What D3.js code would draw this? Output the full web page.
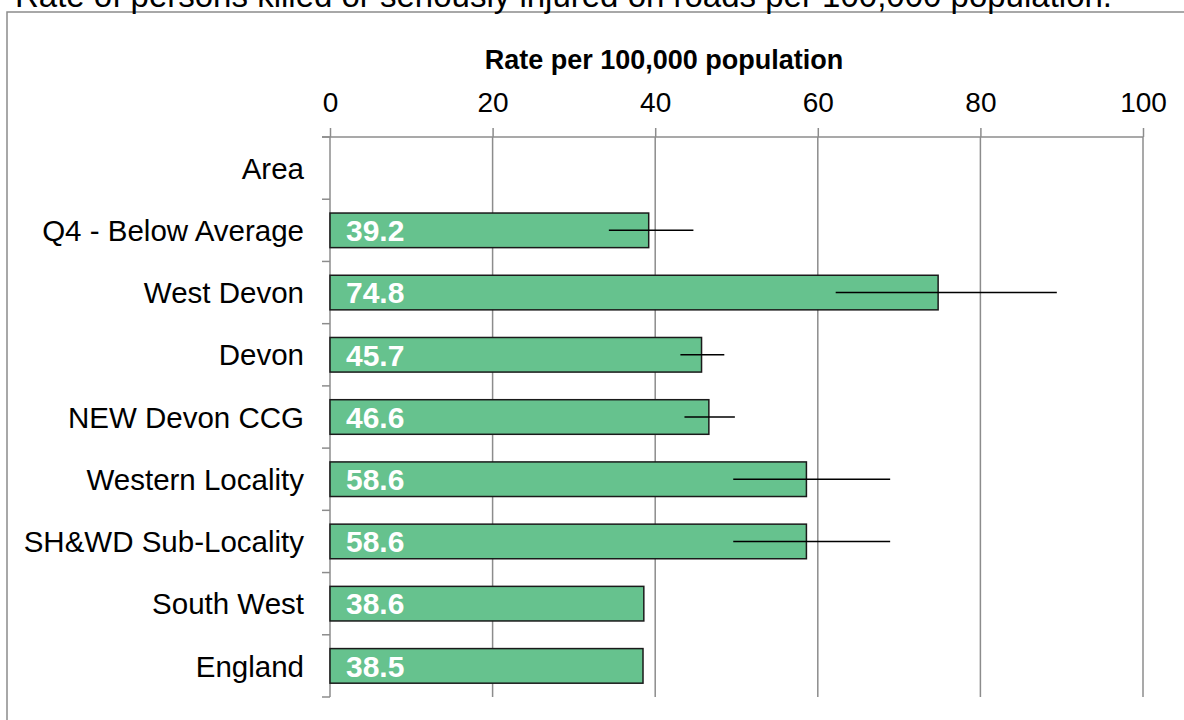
<!DOCTYPE html>
<html>
<head>
<meta charset="utf-8">
<script src="https://cdn.jsdelivr.net/npm/d3@7"></script>
<style>
  html, body { margin: 0; padding: 0; background: #ffffff; }
  svg { display: block; font-family: "Liberation Sans", Arial, Helvetica, sans-serif; }
</style>
</head>
<body>
<svg id="chart" width="1184" height="720"></svg>
<script>
const chartTitle = "Rate of persons killed or seriously injured on roads per 100,000 population.";
const axisTitle = "Rate per 100,000 population";
const categories = ["Area", "Q4 - Below Average", "West Devon", "Devon", "NEW Devon CCG",
                    "Western Locality", "SH&WD Sub-Locality", "South West", "England"];
const values = [null, 39.2, 74.8, 45.7, 46.6, 58.6, 58.6, 38.6, 38.5];
const lowerCI = [null, 34.3, 62.2, 43.1, 43.6, 49.6, 49.6, null, null];
const upperCI = [null, 44.7, 89.4, 48.5, 49.8, 68.9, 68.9, null, null];
const xTicks = [0, 20, 40, 60, 80, 100];

const rows = categories.map((c, i) => ({ cat: c, v: values[i], lo: lowerCI[i], hi: upperCI[i] }));

const svg = d3.select("#chart");
const gridColor = "#8c8c8c";

// outer frame (extends beyond the visible area)
svg.append("rect")
  .attr("x", 7).attr("y", 12).attr("width", 1300).attr("height", 800)
  .attr("fill", "none").attr("stroke", gridColor).attr("stroke-width", 1.5);

// title at top (partly above the visible area, as in the reference)
svg.append("text")
  .attr("x", 15).attr("y", 7)
  .attr("font-size", 33).attr("fill", "#000")
  .text(chartTitle);

const x = d3.scaleLinear().domain([0, 100]).range([330, 1143]);
const y = d3.scaleBand().domain(categories).range([137, 697])
  .paddingInner(0.444).paddingOuter(0.222);
const step = y.step();
const half = step * y.paddingInner() / 2;

// vertical gridlines
svg.append("g").selectAll("line")
  .data(xTicks.filter(t => t > 0))
  .join("line")
  .attr("x1", d => x(d)).attr("x2", d => x(d))
  .attr("y1", y.range()[0]).attr("y2", y.range()[1])
  .attr("stroke", gridColor).attr("stroke-width", 1.5);

// top axis
const topAxis = svg.append("g")
  .attr("transform", `translate(0,${y.range()[0]})`)
  .call(d3.axisTop(x).tickValues(xTicks).tickSize(9).tickPadding(16).tickSizeOuter(0));
topAxis.select(".domain").remove();
topAxis.selectAll(".tick line").attr("stroke", gridColor).attr("stroke-width", 1.5);
topAxis.selectAll(".tick text")
  .attr("font-size", 28).attr("fill", "#000")
  .attr("font-family", "'Liberation Sans', Arial, sans-serif");
// top horizontal line
svg.append("line")
  .attr("x1", x(0) - 8).attr("x2", x(100))
  .attr("y1", y.range()[0]).attr("y2", y.range()[0])
  .attr("stroke", gridColor).attr("stroke-width", 1.5);

// left axis (boundary ticks)
const boundaries = categories.map(c => y(c) - half).concat([y(categories[categories.length - 1]) + y.bandwidth() + half]);
svg.append("line")
  .attr("x1", x(0)).attr("x2", x(0))
  .attr("y1", y.range()[0]).attr("y2", y.range()[1])
  .attr("stroke", gridColor).attr("stroke-width", 1.5);
svg.append("g").selectAll("line")
  .data(boundaries)
  .join("line")
  .attr("x1", x(0) - 8).attr("x2", x(0))
  .attr("y1", d => d).attr("y2", d => d)
  .attr("stroke", gridColor).attr("stroke-width", 1.5);

// category labels
svg.append("g").selectAll("text")
  .data(rows)
  .join("text")
  .attr("x", 304)
  .attr("y", d => y(d.cat) + y.bandwidth() / 2)
  .attr("dy", "0.36em")
  .attr("text-anchor", "end")
  .attr("font-size", 29.5).attr("fill", "#000")
  .attr("xml:space", "preserve")
  .text(d => d.cat);

// axis title
svg.append("text")
  .attr("x", 664).attr("y", 69)
  .attr("text-anchor", "middle")
  .attr("font-size", 27).attr("font-weight", "bold").attr("fill", "#000")
  .text(axisTitle);

const data = rows.filter(d => d.v != null);

// bars
svg.append("g").selectAll("rect")
  .data(data)
  .join("rect")
  .attr("x", x(0))
  .attr("y", d => y(d.cat))
  .attr("width", d => x(d.v) - x(0))
  .attr("height", y.bandwidth())
  .attr("fill", "#66c28e")
  .attr("stroke", "#1a1a1a").attr("stroke-width", 1.5);

// error bars (no caps)
svg.append("g").selectAll("line")
  .data(data.filter(d => d.lo != null))
  .join("line")
  .attr("x1", d => x(d.lo)).attr("x2", d => x(d.hi))
  .attr("y1", d => y(d.cat) + y.bandwidth() / 2)
  .attr("y2", d => y(d.cat) + y.bandwidth() / 2)
  .attr("stroke", "#000").attr("stroke-width", 1.5);

// value labels
svg.append("g").selectAll("text")
  .data(data)
  .join("text")
  .attr("x", x(0) + 16)
  .attr("y", d => y(d.cat) + y.bandwidth() / 2)
  .attr("dy", "0.36em")
  .attr("font-size", 30).attr("font-weight", "bold").attr("fill", "#fff")
  .text(d => d.v.toFixed(1));
</script>
</body>
</html>
